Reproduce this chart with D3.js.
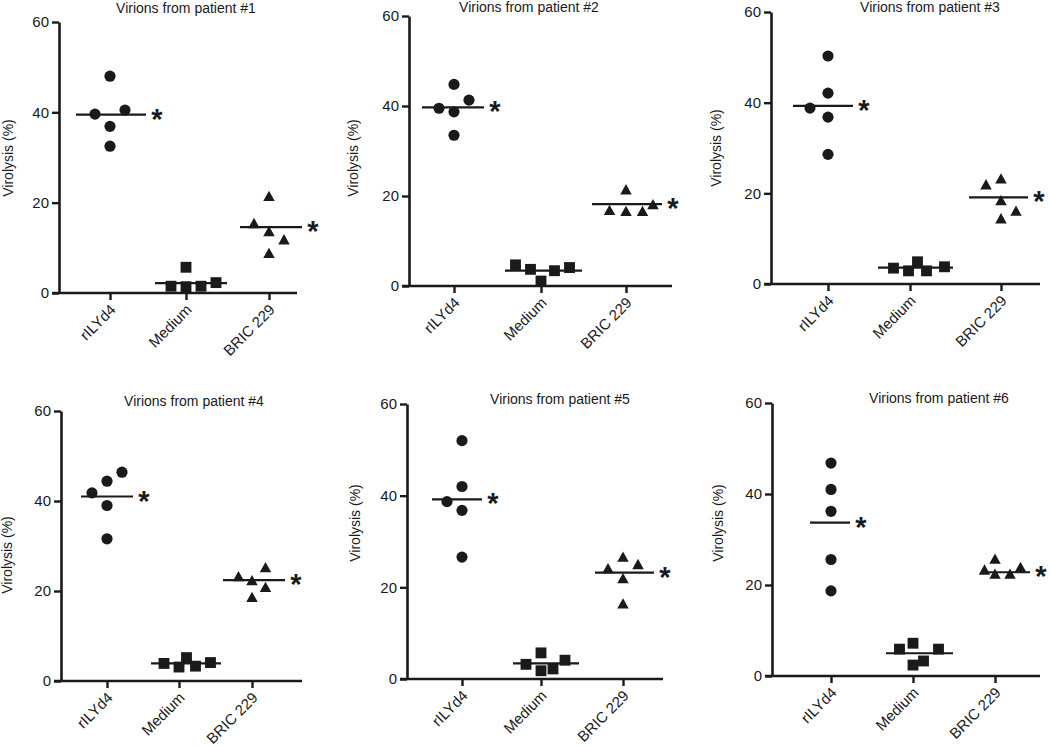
<!DOCTYPE html>
<html>
<head>
<meta charset="utf-8">
<script src="https://cdn.jsdelivr.net/npm/d3@7"></script>
<style>
  body { margin: 0; background: #fff; }
  svg { display: block; }
  text { font-family: "Liberation Sans", Arial, sans-serif; fill: #1a1a1a; }
</style>
</head>
<body>
<script>
var categories = ['rILYd4', 'Medium', 'BRIC 229'];
var yTicks = [0, 20, 40, 60];
var titles = ['Virions from patient #1', 'Virions from patient #2', 'Virions from patient #3',
              'Virions from patient #4', 'Virions from patient #5', 'Virions from patient #6'];
var yLabel = 'Virolysis (%)';
var starred = [true, false, true];

// virolysis (%) per category, 5 replicates each
var patient1Values = [[39.6, 48.0, 40.5, 36.9, 32.5], [1.5, 5.7, 1.4, 1.5, 2.3], [15.5, 21.5, 13.7, 11.9, 8.9]];
var patient2Values = [[39.5, 44.8, 38.7, 41.3, 33.5], [4.7, 3.7, 1.1, 3.4, 4.1], [16.9, 21.5, 16.7, 16.7, 18.2]];
var patient3Values = [[38.8, 50.3, 42.1, 36.8, 28.6], [3.5, 2.9, 4.9, 2.9, 3.8], [22.0, 23.3, 18.5, 16.2, 14.5]];
var patient4Values = [[41.8, 44.4, 46.4, 39.0, 31.6], [3.9, 3.1, 5.2, 3.3, 4.1], [23.3, 22.4, 25.3, 20.9, 18.7]];
var patient5Values = [[38.7, 52.0, 42.0, 36.8, 26.6], [3.2, 5.7, 1.8, 2.2, 4.1], [24.2, 26.7, 25.1, 22.0, 16.5]];
var patient6Values = [[46.8, 41.0, 36.2, 25.6, 18.7], [5.9, 7.2, 2.4, 3.3, 5.9], [23.4, 25.8, 22.5, 22.5, 24.0]];

// horizontal dodge slot of each replicate (scatter spread)
var patient1Slots = [[-1, 0, 1, 0, 0], [-1, 0, 0, 1, 2], [-1, 0, 0, 1, 0]];
var patient2Slots = [[-1, 0, 0, 1, 0], [-1.7, -0.7, 0, 0.9, 1.9], [-1.1, 0, 0, 1.1, 1.8]];
var patient3Slots = [[-1.2, 0, 0, 0, 0], [-1.1, -0.1, 0.5, 1.1, 2.3], [-1, 0, 0, 1, 0]];
var patient4Slots = [[-1, 0, 1, 0, 0], [-1, 0, 0.5, 1.1, 2.1], [-0.9, 0, 0.9, 0.9, 0]];
var patient5Slots = [[-1, 0, 0, 0, 0], [-1, 0, 0, 0.8, 1.6], [-1, 0, 1, 0, 0]];
var patient6Slots = [[0, 0, 0, 0, 0], [-0.9, 0, 0, 0.7, 1.7], [-0.7, 0, 0, 1, 1.7]];

// mean lines
var patient1Means = [39.5, 2.2, 14.6];
var patient2Means = [39.7, 3.4, 18.2];
var patient3Means = [39.3, 3.6, 19.1];
var patient4Means = [41.0, 3.9, 22.4];
var patient5Means = [39.2, 3.4, 23.2];
var patient6Means = [33.7, 5.0, 22.8];

var values = [patient1Values, patient2Values, patient3Values, patient4Values, patient5Values, patient6Values];
var slots = [patient1Slots, patient2Slots, patient3Slots, patient4Slots, patient5Slots, patient6Slots];
var means = [patient1Means, patient2Means, patient3Means, patient4Means, patient5Means, patient6Means];

// panel layout (pixels)
var panels = [
    {ax: 59,  yTop: 22,  yBot: 293, xEnd: 297,  cats: [110, 186, 269], tx: 186, ty: 13,  lx: 13,  ly: 158,
     lines: [[-34, 36], [-31, 41], [-29, 33]]},
    {ax: 409, yTop: 16,  yBot: 286, xEnd: 672,  cats: [454, 541, 626], tx: 529, ty: 12,  lx: 358, ly: 158,
     lines: [[-32, 30], [-36, 41], [-34, 36]]},
    {ax: 771, yTop: 12,  yBot: 284, xEnd: 1040, cats: [828, 910, 1001], tx: 930, ty: 12, lx: 721, ly: 148,
     lines: [[-35, 25], [-32, 43], [-32, 27]]},
    {ax: 61,  yTop: 411, yBot: 681, xEnd: 302,  cats: [107, 179, 252], tx: 194, ty: 406, lx: 12,  ly: 555,
     lines: [[-26, 26], [-28, 42], [-29, 33]]},
    {ax: 407, yTop: 404, yBot: 679, xEnd: 663,  cats: [462, 541, 623], tx: 560, ty: 404, lx: 360, ly: 523,
     lines: [[-30, 20], [-28, 38], [-28, 31]]},
    {ax: 772, yTop: 403, yBot: 676, xEnd: 1040, cats: [831, 913, 995], tx: 939, ty: 403, lx: 723, ly: 523,
     lines: [[-21, 19], [-27, 40], [-12, 35]]}
];

var ink = '#1a1a1a';

// triangle centred on its bounding box
var triangleUp = {
    draw: function (context, size) {
        var w = Math.sqrt(size * 2);
        var h = w * 0.9;
        context.moveTo(0, -h / 2);
        context.lineTo(w / 2, h / 2);
        context.lineTo(-w / 2, h / 2);
        context.closePath();
    }
};
var shapes = [d3.symbolCircle, d3.symbolSquare, triangleUp];
var shapeSizes = [98, 118, 66];

var svg = d3.select('body').append('svg')
    .attr('width', 1050)
    .attr('height', 747);

var slotX = d3.scaleLinear().domain([0, 1]).range([0, 15]);

panels.forEach(function (p, i) {
    var g = svg.append('g');

    var y = d3.scaleLinear()
        .domain([0, 60])
        .range([p.yBot, p.yTop]);

    var x = d3.scaleOrdinal()
        .domain(categories)
        .range(p.cats);

    // y axis
    var yaxis = d3.axisLeft(y).tickValues(yTicks).tickSize(7).tickSizeOuter(0).tickPadding(3);
    var gy = g.append('g')
        .attr('transform', 'translate(' + p.ax + ',0)')
        .call(yaxis);
    gy.select('.domain').attr('stroke', ink).attr('stroke-width', 2.6);
    gy.selectAll('.tick line').attr('stroke', ink).attr('stroke-width', 2.4);
    gy.selectAll('.tick text').style('font-size', '15px').attr('fill', ink);

    // x axis
    var xaxis = d3.axisBottom(x).tickSize(7).tickSizeOuter(0).tickFormat('');
    var gx = g.append('g')
        .attr('transform', 'translate(0,' + p.yBot + ')')
        .call(xaxis);
    gx.select('.domain').remove();
    gx.selectAll('.tick line').attr('stroke', ink).attr('stroke-width', 2.4);
    gx.append('line')
        .attr('x1', p.ax - 7)
        .attr('x2', p.xEnd)
        .attr('stroke', ink)
        .attr('stroke-width', 2.6);

    g.selectAll('.cat-label')
        .data(categories)
        .join('text')
        .attr('class', 'cat-label')
        .attr('transform', function (d) {
            return 'translate(' + (x(d) + 3) + ',' + (p.yBot + 14) + ') rotate(-45)';
        })
        .attr('text-anchor', 'end')
        .attr('dy', '0.35em')
        .style('font-size', '15px')
        .text(function (d) { return d; });

    // title and y label
    g.append('text')
        .attr('x', p.tx)
        .attr('y', p.ty)
        .attr('text-anchor', 'middle')
        .style('font-size', '14px')
        .text(titles[i]);

    g.append('text')
        .attr('transform', 'translate(' + p.lx + ',' + p.ly + ') rotate(-90)')
        .attr('text-anchor', 'middle')
        .style('font-size', '14px')
        .text(yLabel);

    // mean lines
    g.selectAll('.mean')
        .data(means[i])
        .join('line')
        .attr('class', 'mean')
        .attr('x1', function (d, j) { return x(categories[j]) + p.lines[j][0]; })
        .attr('x2', function (d, j) { return x(categories[j]) + p.lines[j][1]; })
        .attr('y1', function (d) { return y(d); })
        .attr('y2', function (d) { return y(d); })
        .attr('stroke', ink)
        .attr('stroke-width', 2.2);

    // points
    var pts = [];
    values[i].forEach(function (arr, j) {
        arr.forEach(function (v, k) {
            pts.push({cat: j, value: v, slot: slots[i][j][k]});
        });
    });

    g.selectAll('.pt')
        .data(pts)
        .join('path')
        .attr('class', 'pt')
        .attr('transform', function (d) {
            return 'translate(' + (x(categories[d.cat]) + slotX(d.slot)) + ',' + y(d.value) + ')';
        })
        .attr('d', function (d) {
            return d3.symbol().type(shapes[d.cat]).size(shapeSizes[d.cat])();
        })
        .attr('fill', ink);

    // significance stars
    g.selectAll('.star')
        .data(means[i].filter(function (d, j) { return starred[j]; }).map(function (d, j) {
            return {value: d, cat: j === 0 ? 0 : 2};
        }))
        .join('text')
        .attr('class', 'star')
        .attr('x', function (d) { return x(categories[d.cat]) + p.lines[d.cat][1] + 11; })
        .attr('y', function (d) { return y(d.value) + 14; })
        .attr('text-anchor', 'middle')
        .style('font-size', '29px')
        .style('font-weight', 'bold')
        .text('*');
});
</script>
</body>
</html>
